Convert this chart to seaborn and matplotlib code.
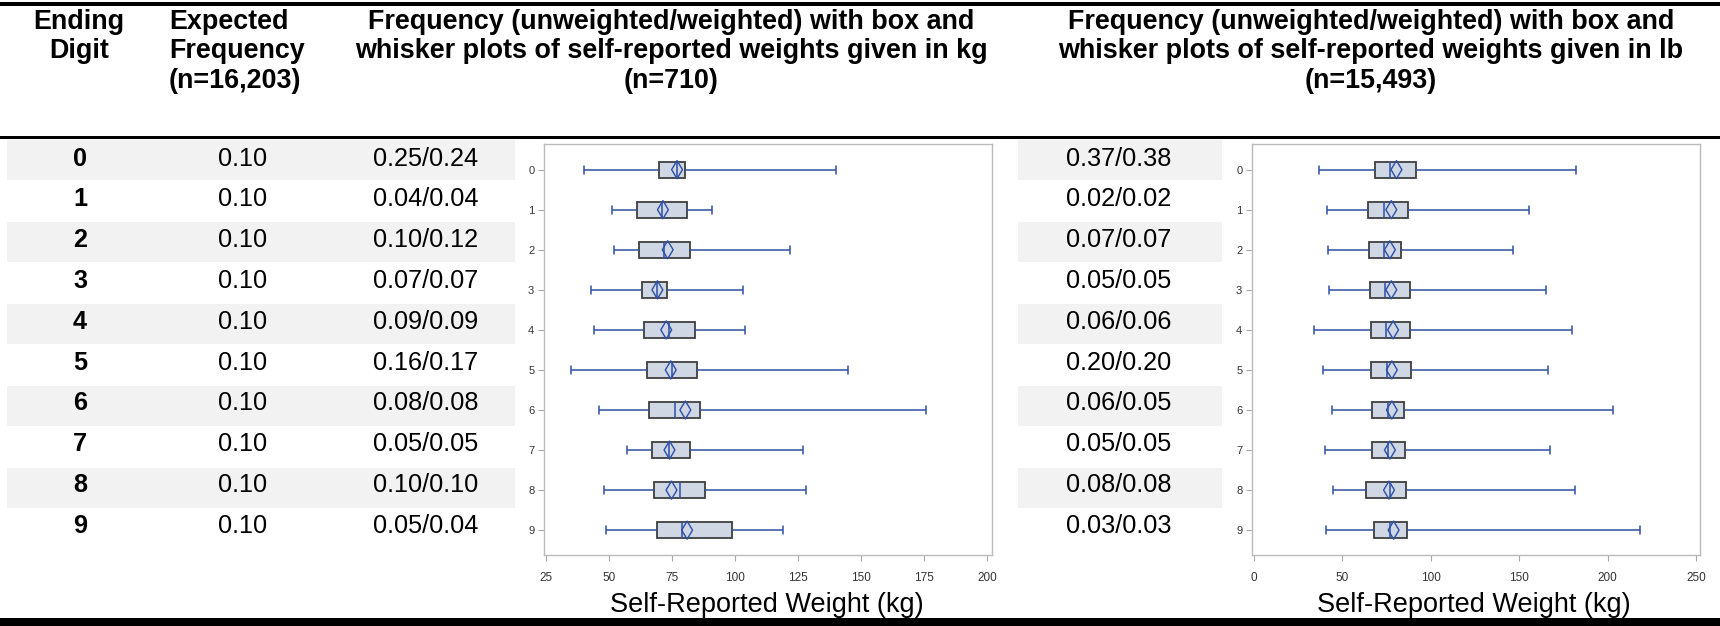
import numpy as np
import pandas as pd
import matplotlib
matplotlib.use("Agg")
import matplotlib.pyplot as plt
from matplotlib.patches import Rectangle
from matplotlib import font_manager as fm
import seaborn as sns

# ---------------- table values ----------------
digits = ["0", "1", "2", "3", "4", "5", "6", "7", "8", "9"]
expected_freq = [0.10, 0.10, 0.10, 0.10, 0.10, 0.10, 0.10, 0.10, 0.10, 0.10]

kg_freq_unweighted = [0.25, 0.04, 0.10, 0.07, 0.09, 0.16, 0.08, 0.05, 0.10, 0.05]
kg_freq_weighted = [0.24, 0.04, 0.12, 0.07, 0.09, 0.17, 0.08, 0.05, 0.10, 0.04]
lb_freq_unweighted = [0.37, 0.02, 0.07, 0.05, 0.06, 0.20, 0.06, 0.05, 0.08, 0.03]
lb_freq_weighted = [0.38, 0.02, 0.07, 0.05, 0.06, 0.20, 0.05, 0.05, 0.08, 0.03]

# ---------------- box-and-whisker summaries ----------------
# weights reported in kg
kg_min = [40, 51, 52, 43, 44, 35, 46, 57, 48, 49]
kg_q1 = [70, 61, 62, 63, 64, 65, 66, 67, 68, 69]
kg_median = [77, 71, 72, 69, 74, 75, 76, 74, 78, 79]
kg_q3 = [80, 81, 82, 73, 84, 85, 86, 82, 88, 99]
kg_max = [140, 91, 122, 103, 104, 145, 176, 127, 128, 119]
kg_mean = [77.0, 71.4, 73.3, 69.2, 72.7, 74.5, 80.3, 74.0, 74.8, 81.0]

# weights reported in lb (shown converted to kg)
lb_min = [36.6, 41.6, 42.1, 42.6, 34.0, 39.0, 43.9, 40.0, 44.7, 40.5]
lb_q1 = [68.6, 64.4, 65.0, 65.5, 66.0, 66.3, 66.5, 67.0, 63.1, 68.1]
lb_median = [77.2, 73.3, 73.5, 74.1, 74.6, 75.4, 75.9, 76.1, 76.9, 76.9]
lb_q3 = [91.5, 87.3, 83.2, 88.1, 88.4, 88.9, 85.0, 85.5, 86.0, 86.3]
lb_max = [182.4, 155.7, 146.8, 165.3, 179.8, 166.1, 203.0, 167.4, 181.4, 218.3]
lb_mean = [80.6, 77.7, 76.9, 77.7, 78.7, 78.0, 78.0, 76.9, 76.4, 79.0]

kg_ticks = [25, 50, 75, 100, 125, 150, 175, 200]
lb_ticks = [0, 50, 100, 150, 200, 250]

header_digit = ["Ending", "Digit"]
header_expected = ["Expected", "Frequency", "(n=16,203)"]
header_kg = ["Frequency (unweighted/weighted) with box and",
             "whisker plots of self-reported weights given in kg",
             "(n=710)"]
header_lb = ["Frequency (unweighted/weighted) with box and",
             "whisker plots of self-reported weights given in lb",
             "(n=15,493)"]
axis_title = "Self-Reported Weight (kg)"

# ---------------- style ----------------
sns.set_style("white")
plt.rcParams["font.family"] = ["Liberation Sans", "DejaVu Sans"]

_installed = {f.name for f in fm.fontManager.ttflist}
TICK_FAMILY = "Liberation Sans Narrow" if "Liberation Sans Narrow" in _installed else "Liberation Sans"

BOX_FILL = "#CBD6E6"
BOX_EDGE = "#3F3F3F"
BLUE = "#2D4FA6"
BAND = "#F2F2F2"

W, H = 1720, 626
fig = plt.figure(figsize=(W / 100, H / 100), dpi=100)
fig.patch.set_facecolor("white")


def fx(px):
    return px / W


def fy(py):
    return 1 - py / H


def band(x0, x1, y0, y1, color, z=0):
    fig.patches.append(Rectangle((fx(x0), fy(y1)), (x1 - x0) / W, (y1 - y0) / H,
                                 transform=fig.transFigure, facecolor=color,
                                 edgecolor="none", zorder=z))


def label(px, py, s, size, weight="normal", ha="center", color="black", z=3):
    fig.text(fx(px), fy(py), s, ha=ha, va="baseline", fontsize=size,
             fontweight=weight, color=color, zorder=z)


# shaded rows
ROW_TOP, ROW_STEP = 140, 41
for i in range(0, len(digits), 2):
    top = ROW_TOP + ROW_STEP * i
    band(7, 515, top, top + 40, BAND)
    band(1018, 1222, top, top + 40, BAND)

# table rules
band(0, W, 2.5, 5.5, "black", 6)
band(0, W, 135.5, 139, "black", 6)
band(0, W, 617.5, 626, "black", 6)

# header
HEAD_SIZE = 19.4
head_base = [29, 58.5, 88]
for s, yb in zip(header_digit, head_base):
    label(79, yb, s, HEAD_SIZE, "bold")
for s, yb in zip(header_expected, head_base):
    label(169, yb, s, HEAD_SIZE, "bold", ha="left")
for s, yb in zip(header_kg, head_base):
    label(671, yb, s, HEAD_SIZE, "bold")
for s, yb in zip(header_lb, head_base):
    label(1371, yb, s, HEAD_SIZE, "bold")

# body rows
BODY_SIZE = 18.2
for i, d in enumerate(digits):
    yb = 165.5 + 40.8 * i
    label(80, yb, d, BODY_SIZE, "bold")
    label(243, yb, f"{expected_freq[i]:.2f}", BODY_SIZE)
    label(426, yb, f"{kg_freq_unweighted[i]:.2f}/{kg_freq_weighted[i]:.2f}", BODY_SIZE)
    label(1119, yb, f"{lb_freq_unweighted[i]:.2f}/{lb_freq_weighted[i]:.2f}", BODY_SIZE)


def draw_panel(ax, lo, q1, med, q3, hi, mean, ticks, xlim):
    df = pd.DataFrame({
        "digit": np.repeat(digits, 5),
        "weight": np.column_stack([lo, q1, med, q3, hi]).ravel(),
    })
    sns.boxplot(data=df, x="weight", y="digit", order=digits, orient="h",
                whis=(0, 100), width=0.4, fill=True, color=BOX_FILL,
                linecolor=BOX_EDGE, linewidth=1.3, showfliers=False,
                whiskerprops=dict(color=BLUE, linewidth=1.1),
                capprops=dict(color=BLUE, linewidth=1.1),
                medianprops=dict(color=BLUE, linewidth=1.1),
                capwidths=0.2, ax=ax)
    sns.scatterplot(x=mean, y=digits, marker="d", s=85, color=BLUE,
                    facecolors="none", edgecolor=BLUE, linewidth=1.0,
                    zorder=6, legend=False, ax=ax)
    ax.set_xticks(ticks)
    ax.set_xlim(*xlim)
    ax.set_ylim(9.62, -0.64)
    ax.set_xlabel("")
    ax.set_ylabel("")
    ax.set_facecolor("white")
    for sp in ax.spines.values():
        sp.set_visible(True)
        sp.set_color("#BBBBBB")
        sp.set_linewidth(1.0)
    ax.tick_params(axis="both", bottom=True, left=True, direction="out",
                   length=4, width=0.8, color="#A8A8A8", labelcolor="#333333",
                   labelfontfamily=TICK_FAMILY)
    ax.tick_params(axis="x", labelsize=8.5, pad=8)
    ax.tick_params(axis="y", labelsize=8, pad=3)


ax_kg = fig.add_axes([fx(544), fy(555), (992 - 544) / W, (555 - 144) / H])
draw_panel(ax_kg, kg_min, kg_q1, kg_median, kg_q3, kg_max, kg_mean,
           kg_ticks, (24.2, 202.0))

ax_lb = fig.add_axes([fx(1252), fy(555), (1700 - 1252) / W, (555 - 144) / H])
draw_panel(ax_lb, lb_min, lb_q1, lb_median, lb_q3, lb_max, lb_mean,
           lb_ticks, (-1.1, 252.3))

# axis captions under each panel
label(767, 611.5, axis_title, 19.5)
label(1474, 611.5, axis_title, 19.5)

fig.savefig("out.png", dpi=100)
